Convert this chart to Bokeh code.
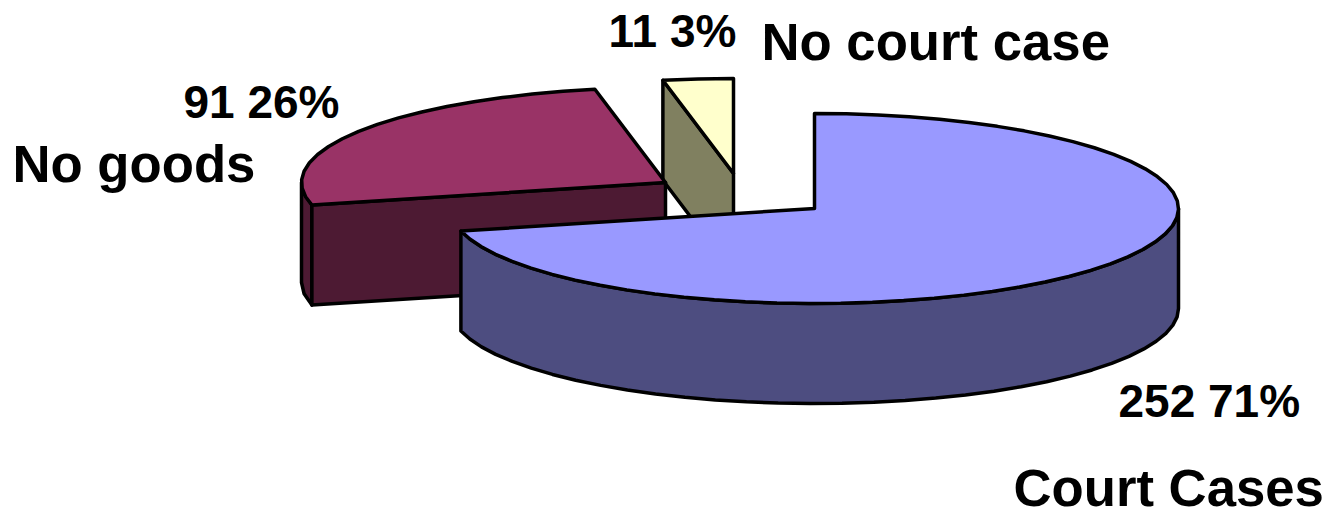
import numpy as np
from bokeh.plotting import figure
from bokeh.models import Range1d
from bokeh.core.properties import value
from bokeh.embed import file_html
from bokeh.resources import INLINE

# Data
categories = ["Court Cases", "No goods", "No court case"]
counts = [252, 91, 11]
percents = ["71%", "26%", "3%"]

# Styles
top_colors = ["#9999FF", "#993366", "#FFFFCC"]
side_colors = ["#4D4D80", "#4D1A33", "#808060"]

# Layout (reference pixel space)
centers = [(814, 208), (665, 182), (733, 173)]
RX, RY, DEPTH = 364, 95, 100
FONT = value("Liberation Sans")

p = figure(width=1328, height=511, output_backend="svg", toolbar_location=None,
           x_range=Range1d(0, 1328), y_range=Range1d(511, 0),
           min_border=0, outline_line_color=None, background_fill_color="white")
p.xaxis.visible = False
p.yaxis.visible = False
p.grid.visible = False


def rim(c, a0, a1):
    n = max(2, int(abs(a1 - a0) / 5) + 1)
    t = np.radians(np.linspace(a0, a1, n))
    return c[0] + RX * np.sin(t), c[1] - RY * np.cos(t)


total = sum(counts)
edges = np.concatenate([[0], np.cumsum(counts) / total * 360])
spans = [(edges[i], edges[i + 1]) for i in range(3)]
LW = 3.5


def draw(xs, ys, color):
    p.patch(list(xs), list(ys), fill_color=color, line_color="black",
            line_width=LW, line_join="round")


# --- Slice 3 (back, exploded): cut face then top
a0, a1 = spans[2]
c = centers[2]
x, y = rim(c, a0, a1)
draw([x[0], c[0], c[0], x[0]], [y[0], c[1], c[1] + DEPTH, y[0] + DEPTH], side_colors[2])
draw(np.r_[c[0], x], np.r_[c[1], y], top_colors[2])

# --- Slice 2: outer wall, cut face, top
a0, a1 = spans[1]
c = centers[1]
x, y = rim(c, a0, 270)
draw(np.r_[x, x[::-1]], np.r_[y, y[::-1] + DEPTH], side_colors[1])
x, y = rim(c, a0, a1)
draw([c[0], x[0], x[0], c[0]], [c[1], y[0], y[0] + DEPTH, c[1] + DEPTH], side_colors[1])
draw(np.r_[c[0], x], np.r_[c[1], y], top_colors[1])

# --- Slice 1: outer wall then top
a0, a1 = spans[0]
c = centers[0]
x, y = rim(c, 90, a1)
draw(np.r_[x, x[::-1]], np.r_[y, y[::-1] + DEPTH], side_colors[0])
x, y = rim(c, a0, a1)
draw(np.r_[c[0], x], np.r_[c[1], y], top_colors[0])

# --- Labels
number_labels = [f"{counts[i]} {percents[i]}" for i in range(3)]
p.text([1118, 183, 608], [400, 101, 30], text=number_labels, text_font=FONT,
       text_font_style="bold", text_font_size="46px", text_color="black",
       text_align="left", text_baseline="middle")
p.text([1013, 12, 761], [487, 163, 41], text=categories, text_font=FONT,
       text_font_style="bold", text_font_size="52.7px", text_color="black",
       text_align="left", text_baseline="middle")

open("out.html", "w").write(file_html(p, INLINE))
